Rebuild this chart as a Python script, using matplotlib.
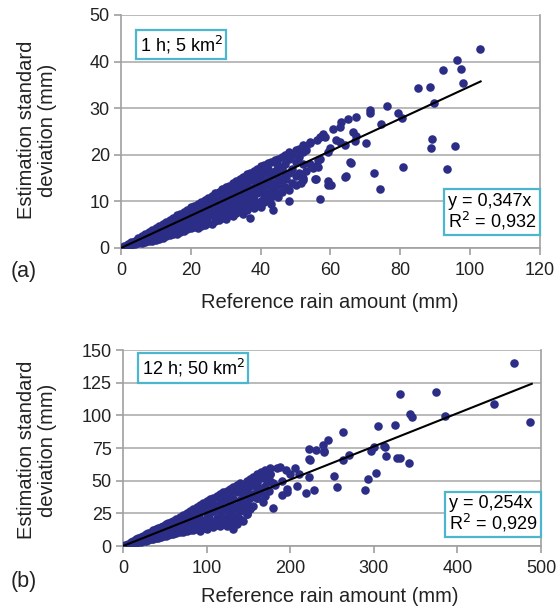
import matplotlib.pyplot as plt
import numpy as np

plt.rcParams["font.family"] = ["Liberation Sans", "DejaVu Sans"]

# ---- (a) 1 h; 5 km2 : dense cloud read column by column ----
a_cloud_x = list(range(1, 55))
a_cloud_y = [
    [0.3, 0.5], [0.5, 0.8], [0.6, 1.2], [0.8, 1.6], [1.0, 1.5, 2.1],
    [1.0, 1.8, 2.6], [1.3, 2.2, 3.0], [1.4, 2.5, 3.4], [1.6, 2.8, 3.9],
    [1.8, 3.2, 4.3], [2.0, 3.0, 4.0, 4.8], [2.2, 3.5, 4.4, 5.2],
    [2.5, 3.6, 4.8, 5.6], [2.8, 4.0, 5.0, 6.1], [3.0, 4.2, 5.4, 6.5],
    [3.1, 4.5, 5.8, 7.0], [3.5, 4.8, 6.1, 7.4], [3.7, 5.0, 6.4, 7.8],
    [4.0, 5.4, 6.8, 8.2], [4.2, 5.6, 7.2, 8.7], [4.5, 6.0, 7.5, 9.1],
    [4.3, 5.8, 6.8, 8.0, 9.5], [4.7, 6.4, 8.2, 9.9],
    [5.0, 6.2, 7.4, 8.8, 10.4], [5.4, 6.8, 8.0, 9.5, 10.8],
    [5.2, 7.0, 8.5, 10.0, 11.2], [5.8, 7.2, 9.0, 10.5, 11.7],
    [6.0, 7.8, 9.5, 11.0, 12.1], [6.5, 8.4, 10.0, 11.5, 12.6],
    [6.2, 7.5, 9.0, 10.4, 12.0, 13.0], [7.0, 8.8, 11.0, 12.4, 13.4],
    [6.8, 8.0, 9.6, 11.4, 12.8, 13.9], [7.5, 9.0, 10.2, 12.0, 14.3],
    [8.0, 9.5, 11.0, 12.5, 13.5, 14.8], [7.4, 8.6, 10.5, 12.0, 14.0, 15.2],
    [8.2, 9.8, 11.5, 13.2, 15.0, 15.8], [6.4, 9.0, 10.8, 12.5, 14.5, 16.0],
    [8.5, 10.2, 13.0, 15.3, 16.5], [9.5, 11.8, 14.0, 16.2, 17.0],
    [8.8, 10.0, 12.5, 15.0, 16.8, 17.5], [9.8, 11.2, 13.5, 16.0, 17.8],
    [10.5, 12.0, 14.5, 17.0, 18.2], [9.5, 11.5, 13.0, 15.5, 18.5],
    [12.5, 14.0, 16.5, 18.8], [11.0, 13.5, 15.0, 17.5, 19.2],
    [12.0, 14.5, 16.5, 19.5], [13.0, 15.5, 18.0, 20.0],
    [12.5, 16.0, 19.0, 20.5], [14.0, 17.0, 20.0],
    [13.5, 15.5, 18.5, 21.0], [16.0, 19.5, 21.2],
    [15.0, 18.0, 20.5, 22.0], [16.5, 21.0], [18.0, 22.5],
]
# scattered points of (a)
a_ref = [102.9, 96.3, 92.2, 97.4, 97.9, 85.0, 88.4, 89.6, 76.2, 71.2, 71.2,
         79.3, 80.6, 74.6, 89.1, 88.7, 95.7, 80.9, 93.4, 72.4, 74.1, 66.0,
         64.3, 70.3, 56.9, 48.2, 43.4, 60.1, 59.3, 55.8, 51.7, 52.2, 47.4,
         67.4, 65.1, 62.7, 60.8, 66.5, 67.4, 67.0, 64.1, 59.8, 56.9, 57.8,
         54.1, 53.1, 63.1, 58.4, 56.0, 62.7, 59.3, 56.5, 56.5, 65.5, 55.5,
         59.3, 64.4, 43.6, 43.1, 40.3, 37.9, 38.9, 44.5, 46.1, 55.9, 55.0,
         56.9, 61.6, 44.6]
a_sd = [42.8, 40.3, 38.3, 38.4, 35.5, 34.4, 34.6, 31.1, 30.4, 29.6, 28.9,
        29.0, 28.0, 26.7, 23.3, 21.4, 21.9, 17.4, 16.9, 16.0, 12.6, 18.3,
        15.3, 22.6, 10.6, 10.1, 8.1, 13.5, 14.4, 14.9, 14.0, 14.5, 14.9,
        28.1, 27.6, 26.0, 25.6, 24.9, 24.0, 23.0, 22.1, 21.4, 23.9, 24.5,
        22.8, 21.8, 27.1, 23.9, 23.1, 22.8, 20.6, 18.9, 17.4, 18.5, 14.9,
        13.5, 15.4, 13.1, 11.0, 12.1, 11.0, 13.5, 16.3, 17.0, 17.7, 17.1,
        19.1, 23.2, 18.1]
a_slope, a_r2, a_xmax = 0.347, 0.932, 103

# ---- (b) 12 h; 50 km2 ----
b_cloud_x = [3, 6, 9, 12, 15, 18, 21, 24, 27, 30, 33, 36, 39, 42, 45, 48, 51,
             54, 57, 60, 64, 68, 72, 76, 80, 84, 88, 92, 96, 100, 104, 108,
             112, 116, 120, 124, 128, 132, 136, 140, 144, 148, 152, 156, 160,
             165, 170, 176]
b_cloud_y = [
    [0.8], [1.5], [1.5, 2.8], [2.0, 3.6], [2.5, 4.0, 5.0], [3.0, 4.8, 6.0],
    [3.2, 5.3, 7.0], [3.8, 6.0, 8.0], [4.2, 6.5, 9.0], [4.5, 7.0, 10.0],
    [5.0, 8.0, 11.0], [5.5, 8.5, 12.0], [6.0, 9.5, 12.8], [6.2, 10.0, 13.8],
    [7.0, 10.5, 14.5], [7.5, 11.5, 15.5], [8.0, 12.5, 16.5],
    [8.2, 13.0, 17.5], [9.0, 14.0, 18.5], [9.0, 12.0, 15.5, 19.5],
    [10.0, 13.5, 17.0, 21.0], [10.5, 14.0, 18.0, 22.5],
    [11.0, 15.0, 19.5, 24.0], [11.5, 16.0, 21.0, 25.5],
    [12.0, 17.5, 22.0, 27.0], [12.5, 18.0, 23.5, 28.5],
    [13.0, 19.0, 24.5, 30.0], [11.5, 16.0, 21.0, 26.0, 31.5],
    [14.0, 18.5, 27.5, 33.0], [13.0, 17.0, 22.5, 29.0, 34.5],
    [15.0, 20.0, 25.5, 30.5, 36.0], [14.5, 18.5, 27.0, 32.0, 37.0],
    [16.0, 21.5, 29.0, 38.5], [15.5, 24.0, 33.5, 39.5],
    [17.0, 19.5, 27.5, 35.0, 41.0], [15.0, 22.0, 30.0, 37.0, 42.0],
    [18.0, 25.0, 33.0, 40.0, 44.0], [20.0, 28.0, 36.0, 45.0],
    [17.0, 23.0, 31.0, 41.0, 46.5], [21.0, 27.0, 35.0, 43.0, 48.0],
    [19.5, 30.0, 38.5, 47.0], [24.8, 33.0, 42.0, 49.5],
    [28.0, 37.0, 46.0, 51.0], [31.0, 40.0, 49.0, 53.0],
    [36.4, 44.0, 50.0, 55.0], [41.0, 52.0, 57.0], [46.0, 55.0, 58.0],
    [50.0, 55.0, 60.0],
]
b_ref = [468.3, 487.4, 443.5, 374.9, 330.9, 345.7, 343.7, 385.6, 325.7,
         304.6, 263.1, 312.6, 300.6, 297.0, 315.0, 331.0, 341.7, 269.8,
         263.1, 251.9, 255.9, 293.0, 303.0, 289.0, 245.1, 239.1, 240.7,
         231.1, 222.0, 223.1, 222.0, 227.9, 218.8, 208.0, 210.0, 206.0,
         200.0, 188.0, 184.0, 176.0, 196.0, 190.0, 180.0, 182.0, 164.0,
         160.0, 148.0, 160.0, 168.0, 148.0, 132.0, 313.8, 327.8, 196.0,
         180.0, 172.0, 175.0, 165.0, 170.0, 190.0, 195.0, 224.0, 240.0]
b_sd = [139.9, 94.6, 108.4, 117.6, 116.1, 98.9, 100.8, 99.5, 92.6, 91.8,
        87.0, 76.5, 75.9, 72.9, 68.8, 67.5, 63.7, 69.6, 66.2, 53.7, 45.3,
        51.2, 56.0, 43.2, 81.1, 77.2, 72.9, 73.4, 73.9, 66.3, 52.9, 43.2,
        40.6, 45.8, 55.5, 59.4, 55.5, 60.6, 59.4, 55.0, 41.4, 38.9, 29.1,
        46.5, 52.9, 47.8, 41.4, 36.4, 33.8, 24.8, 13.3, 75.9, 67.0, 44.0,
        48.0, 50.0, 42.0, 44.0, 38.0, 50.0, 58.0, 65.7, 72.1]
b_slope, b_r2, b_xmax = 0.254, 0.929, 489

DOT = "#2b2d86"
GRID = "#b4b4b4"
BOX = "#4db6cf"
TXT = "#222222"
FS_TICK = 13
FS_BOX = 13
FS_LAB = 14.5


def expand(cols_x, cols_y):
    xs, ys = [], []
    for x, col in zip(cols_x, cols_y):
        for y in col:
            xs.append(x)
            ys.append(y)
    return xs, ys


def panel(ax, cloud_x, cloud_y, ref, sd, slope, r2, xmax, xlim, ylim,
          xticks, yticks, tag):
    cx, cy = expand(cloud_x, cloud_y)
    ax.scatter(cx + ref, cy + sd, s=38, color=DOT, linewidths=0, zorder=3)
    xl = np.array([0, xmax])
    ax.plot(xl, slope * xl, color="black", lw=1.5, zorder=4)

    ax.set_xlim(*xlim)
    ax.set_ylim(*ylim)
    ax.set_xticks(xticks)
    ax.set_yticks(yticks)
    ax.yaxis.grid(True, color=GRID, lw=1.3, zorder=0)
    ax.set_axisbelow(True)
    for side in ("left", "bottom", "right"):
        ax.spines[side].set_color("#a0a0a0")
        ax.spines[side].set_linewidth(1.2)
    ax.spines["top"].set_visible(False)
    ax.tick_params(axis="both", colors="#a0a0a0", labelcolor=TXT,
                   labelsize=FS_TICK, length=5, width=1.2)
    ax.tick_params(axis="x", pad=5)
    ax.tick_params(axis="y", pad=3)

    box = dict(boxstyle="square,pad=0.2", facecolor="white",
               edgecolor=BOX, linewidth=1.6)
    ax.text(0.045, tag[1], tag[0], transform=ax.transAxes, fontsize=FS_BOX,
            va="top", ha="left", bbox=box, zorder=6)
    eq = "y = %sx\nR$^2$ = %s" % (("%.3f" % slope).replace(".", ","),
                                   ("%.3f" % r2).replace(".", ","))
    ax.text(0.78, tag[2], eq, transform=ax.transAxes, fontsize=FS_BOX,
            va="bottom", ha="left", bbox=box, zorder=6, linespacing=1.0)


fig = plt.figure(figsize=(5.58, 6.12), dpi=100)
ax1 = fig.add_axes([0.2168, 0.5948, 0.7509, 0.3807])
ax2 = fig.add_axes([0.2204, 0.1078, 0.7491, 0.3202])

panel(ax1, a_cloud_x, a_cloud_y, a_ref, a_sd, a_slope, a_r2, a_xmax,
      (0, 120), (0, 50), range(0, 121, 20), range(0, 51, 10),
      ("1 h; 5 km$^2$", 0.92, 0.07))
panel(ax2, b_cloud_x, b_cloud_y, b_ref, b_sd, b_slope, b_r2, b_xmax,
      (0, 500), (0, 150), range(0, 501, 100), range(0, 151, 25),
      ("12 h; 50 km$^2$", 0.965, 0.062))

fig.text(330 / 558, 1 - 303 / 612, "Reference rain amount (mm)",
         ha="center", va="center", fontsize=FS_LAB, color=TXT)
fig.text(330 / 558, 1 - 597 / 612, "Reference rain amount (mm)",
         ha="center", va="center", fontsize=FS_LAB, color=TXT)

fig.text(37 / 558, 1 - 130 / 612, "Estimation standard\ndeviation (mm)",
         rotation=90, ha="center", va="center", fontsize=FS_LAB,
         color=TXT, multialignment="center", linespacing=1.15)
fig.text(37 / 558, 1 - 450 / 612, "Estimation standard\ndeviation (mm)",
         rotation=90, ha="center", va="center", fontsize=FS_LAB,
         color=TXT, multialignment="center", linespacing=1.15)
fig.text(24 / 558, 1 - 272 / 612, "(a)", ha="center", va="center",
         fontsize=15.5, color=TXT)
fig.text(24 / 558, 1 - 582 / 612, "(b)", ha="center", va="center",
         fontsize=15.5, color=TXT)

fig.savefig("out.png", dpi=100)
